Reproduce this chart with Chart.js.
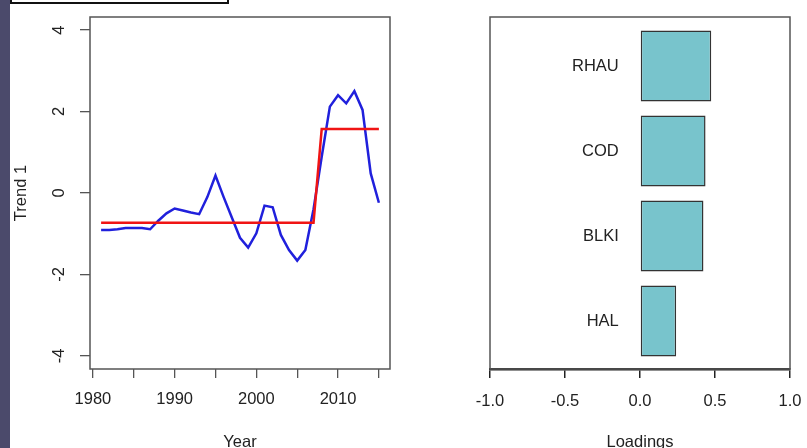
<!DOCTYPE html>
<html>
<head>
    <title>Trend 1 and Loadings</title>
    <script src="https://cdn.jsdelivr.net/npm/chart.js"></script>
    <style>
        body { margin: 0; width: 807px; height: 448px; overflow: hidden; background: #fff; position: relative; }
        #strip { position: absolute; left: 0; top: 0; width: 10px; height: 448px; background: #4b4a6b; z-index: 2; }
        #frame { position: absolute; left: 10px; top: -4px; width: 215px; height: 4px; border: 2px solid #111; z-index: 2; }
        #trendChart { position: absolute; left: 0; top: 0; }
        #loadChart { position: absolute; left: 400px; top: 0; }
    </style>
</head>
<body>
    <div id="strip"></div>
    <div id="frame"></div>
    <canvas id="trendChart" width="400" height="460"></canvas>
    <canvas id="loadChart" width="407" height="460"></canvas>

    <script>
        // left panel: trend and fitted regime levels
        const years = [1981, 1982, 1983, 1984, 1985, 1986, 1987, 1988, 1989, 1990,
                       1991, 1992, 1993, 1994, 1995, 1996, 1997, 1998, 1999, 2000,
                       2001, 2002, 2003, 2004, 2005, 2006, 2007, 2008, 2009, 2010,
                       2011, 2012, 2013, 2014, 2015];
        const trend = [-0.91, -0.91, -0.89, -0.86, -0.86, -0.86, -0.89, -0.68, -0.50, -0.38,
                       -0.43, -0.48, -0.52, -0.10, 0.43, -0.10, -0.60, -1.10, -1.34, -0.99,
                       -0.31, -0.35, -1.03, -1.40, -1.66, -1.40, -0.40, 0.89, 2.12, 2.40,
                       2.20, 2.50, 2.04, 0.48, -0.24];
        const regime = [-0.73, -0.73, -0.73, -0.73, -0.73, -0.73, -0.73, -0.73, -0.73, -0.73,
                        -0.73, -0.73, -0.73, -0.73, -0.73, -0.73, -0.73, -0.73, -0.73, -0.73,
                        -0.73, -0.73, -0.73, -0.73, -0.73, -0.73, -0.73, 1.57, 1.57, 1.57,
                        1.57, 1.57, 1.57, 1.57, 1.57];

        // right panel: loadings
        const species = ['RHAU', 'COD', 'BLKI', 'HAL'];
        const loadings = [0.475, 0.437, 0.423, 0.241];
        const loadingTicks = ['-1.0', '-0.5', '0.0', '0.5', '1.0'];

        Chart.defaults.font.family = '"Liberation Sans", Arial, sans-serif';
        Chart.defaults.font.size = 16.5;
        Chart.defaults.color = '#222';

        // R-style box round the plot region
        const plotBox = {
            id: 'plotBox',
            beforeDatasetsDraw(chart) {
                const { ctx, chartArea: a } = chart;
                ctx.save();
                ctx.strokeStyle = '#555';
                ctx.lineWidth = 1.5;
                ctx.strokeRect(a.left, a.top, a.right - a.left, a.bottom - a.top);
                ctx.restore();
            }
        };

        // fixed axis sizes, no extra room for overhanging labels
        const fixX = h => s => { s.height = h; s.paddingLeft = 0; s.paddingRight = 0; };
        const fixY = w => s => { s.width = w; s.paddingTop = 0; s.paddingBottom = 0; };

        new Chart(document.getElementById('trendChart'), {
            type: 'line',
            data: {
                datasets: [{
                    label: 'Regime',
                    data: years.map((y, i) => ({ x: y, y: regime[i] })),
                    borderColor: '#f01414',
                    borderWidth: 2.5,
                    pointRadius: 0,
                    tension: 0
                }, {
                    label: 'Trend 1',
                    data: years.map((y, i) => ({ x: y, y: trend[i] })),
                    borderColor: '#2020dc',
                    borderWidth: 2.5,
                    pointRadius: 0,
                    tension: 0
                }]
            },
            options: {
                responsive: false,
                animation: false,
                layout: { padding: { left: 0, top: 17, right: 10, bottom: 0 } },
                plugins: { legend: { display: false }, tooltip: { enabled: false } },
                scales: {
                    x: {
                        type: 'linear',
                        min: 1979.64,
                        max: 2016.36,
                        afterFit: fixX(91),
                        ticks: {
                            stepSize: 5,
                            includeBounds: false,
                            autoSkip: false,
                            maxRotation: 0,
                            padding: 12,
                            callback: v => (v % 10 === 0 ? String(v) : '')
                        },
                        grid: { drawOnChartArea: false, tickLength: 9, color: '#555', lineWidth: 1.3 },
                        border: { display: false },
                        title: { display: true, text: 'Year', padding: { top: 0, bottom: 8 } }
                    },
                    y: {
                        min: -4.32,
                        max: 4.32,
                        afterFit: fixY(90),
                        ticks: {
                            stepSize: 2,
                            includeBounds: false,
                            minRotation: 90,
                            maxRotation: 90,
                            crossAlign: 'center',
                            padding: 13
                        },
                        grid: { drawOnChartArea: false, tickLength: 10, color: '#555', lineWidth: 1.3 },
                        border: { display: false },
                        title: { display: true, text: 'Trend 1', padding: { top: 12, bottom: 0 } }
                    }
                }
            },
            plugins: [plotBox]
        });

        new Chart(document.getElementById('loadChart'), {
            type: 'bar',
            data: {
                datasets: [{
                    label: 'Loadings',
                    data: loadings.map((v, i) => ({ x: v, y: i })),
                    backgroundColor: '#78c4cc',
                    borderColor: '#333',
                    borderWidth: 1.5,
                    borderSkipped: false,
                    categoryPercentage: 1,
                    barPercentage: 0.835
                }]
            },
            options: {
                indexAxis: 'y',
                responsive: false,
                animation: false,
                layout: { padding: { left: 0, top: 17, right: 17, bottom: 0 } },
                plugins: { legend: { display: false }, tooltip: { enabled: false } },
                scales: {
                    x: {
                        type: 'linear',
                        min: -1,
                        max: 1,
                        afterFit: fixX(91),
                        ticks: {
                            stepSize: 0.5,
                            maxRotation: 0,
                            padding: 14,
                            callback: (v, i) => loadingTicks[i]
                        },
                        grid: { drawOnChartArea: false, tickLength: 9, color: '#222', lineWidth: 1.5 },
                        border: { display: true, color: '#222', width: 2.5 },
                        title: { display: true, text: 'Loadings', padding: { top: 0, bottom: 8 } }
                    },
                    y: {
                        type: 'linear',
                        reverse: true,
                        offset: false,
                        min: -0.576,
                        max: 3.565,
                        afterFit: fixY(90),
                        ticks: {
                            stepSize: 1,
                            includeBounds: false,
                            mirror: true,
                            crossAlign: 'far',
                            padding: 82,
                            callback: v => species[v] ?? ''
                        },
                        grid: { display: false, drawTicks: false, offset: false },
                        border: { display: false }
                    }
                }
            },
            plugins: [plotBox]
        });
    </script>
</body>
</html>
